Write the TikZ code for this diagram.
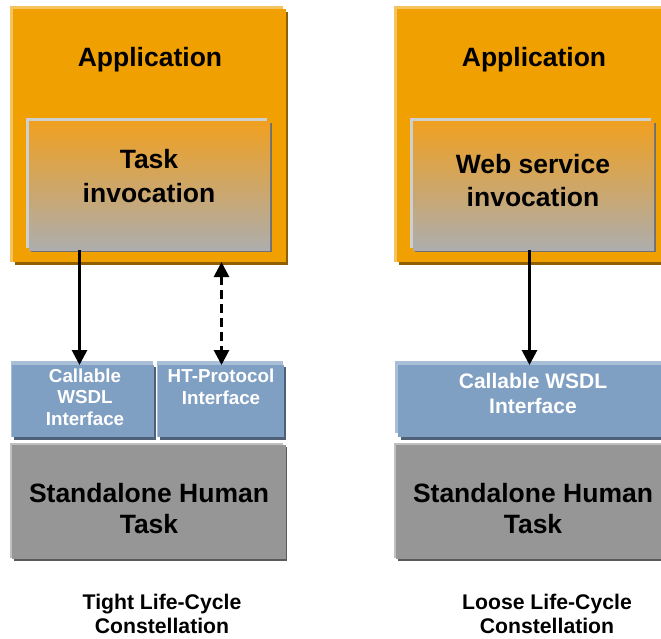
\documentclass[tikz,border=0pt]{standalone}
\usepackage{fontspec}
\setmainfont{Liberation Sans}
\usetikzlibrary{arrows.meta}
\definecolor{appM}{HTML}{F0A000}\definecolor{appH}{HTML}{F5C35F}\definecolor{appS}{HTML}{906000}
\definecolor{blueM}{HTML}{7F9FC3}\definecolor{blueH}{HTML}{A9BFD8}\definecolor{blueS}{HTML}{4F6079}
\definecolor{grayM}{HTML}{969696}\definecolor{grayH}{HTML}{C0C0C0}\definecolor{grayS}{HTML}{5A5A5A}
\definecolor{taskH}{HTML}{CFCFCF}\definecolor{taskS}{HTML}{707070}
\definecolor{taskT}{HTML}{F0A020}\definecolor{taskB}{HTML}{ADADAD}
\tikzset{
 panel/.style={inner sep=0pt,outer sep=0pt,anchor=north west,align=center},
 big/.style={font=\fontsize{26.5}{33}\selectfont\bfseries,text=black},
 bigwide/.style={font=\fontsize{26.5}{34}\selectfont\bfseries,text=black},
 bigtight/.style={font=\fontsize{26.5}{31}\selectfont\bfseries,text=black},
 small/.style={font=\fontsize{18.8}{21.5}\selectfont\bfseries,text=white},
 mid/.style={font=\fontsize{21}{25}\selectfont\bfseries,text=white},
 captext/.style={font=\fontsize{21.2}{24.5}\selectfont\bfseries,text=black,align=center,inner sep=0pt},
 lab/.style={inner sep=0pt,align=center},
 conn/.style={line width=2.8pt,-{Triangle[length=15pt,width=15pt]}},
 dconn/.style={line width=2.8pt,dash pattern=on 9pt off 5pt,{Triangle[length=15pt,width=15pt]}-{Triangle[length=15pt,width=15pt]}}
}
\begin{document}
\begin{tikzpicture}[x=1pt,y=-1pt]
\useasboundingbox (0,0) rectangle (661,638);
\begin{scope}
\clip (0,0) rectangle (661,638);
% left column
\fill[appH] (10,6) rectangle (283,262);
\fill[appS] (15,12) rectangle (288,265);
\node[panel,fill=appM,minimum width=273pt,minimum height=253pt] (app1) at (13,9) {};
\fill[taskH] (26,118) rectangle (267,248);
\fill[taskS] (31,123) rectangle (272,252);
\node[panel,top color=taskT,bottom color=taskB,minimum width=241pt,minimum height=129pt] (task1) at (29,121) {};
\fill[blueH] (11,361) rectangle (153,437);
\fill[blueS] (14,367) rectangle (156,440);
\node[panel,fill=blueM,minimum width=142pt,minimum height=72pt] (wsdl1) at (12,365) {};
\fill[blueH] (157,361) rectangle (283,437);
\fill[blueS] (160,367) rectangle (286,440);
\node[panel,fill=blueM,minimum width=126pt,minimum height=72pt] (ht1) at (158,365) {};
\fill[grayH] (10,443) rectangle (283,558);
\fill[grayS] (14,447) rectangle (287,561);
\node[panel,fill=grayM,minimum width=274pt,minimum height=114pt] (hum1) at (12,445) {};
% right column
\fill[appH] (394,6) rectangle (667,262);
\fill[appS] (399,12) rectangle (672,265);
\node[panel,fill=appM,minimum width=273pt,minimum height=253pt] (app2) at (397,9) {};
\fill[taskH] (410,118) rectangle (651,248);
\fill[taskS] (415,123) rectangle (656,252);
\node[panel,top color=taskT,bottom color=taskB,minimum width=241pt,minimum height=129pt] (task2) at (413,121) {};
\fill[blueH] (395,361) rectangle (668,433);
\fill[blueS] (401,367) rectangle (674,440);
\node[panel,fill=blueM,minimum width=273pt,minimum height=72pt] (wsdl2) at (398,365) {};
\fill[grayH] (394,443) rectangle (667,558);
\fill[grayS] (398,447) rectangle (671,561);
\node[panel,fill=grayM,minimum width=274pt,minimum height=114pt] (hum2) at (396,445) {};
\end{scope}
% labels
\node[lab,big] (l1) at (150,59.5) {Application};
\node[lab,bigwide] (l2) at (149,176.5) {Task\\invocation};
\node[lab,small] (l3) at (85,397) {Callable\\WSDL\\Interface};
\node[lab,small] (l4) at (221,387) {HT-Protocol\\Interface};
\node[lab,bigtight] (l5) at (149,509) {Standalone Human\\Task};
\node[lab,big] (l6) at (534,59.5) {Application};
\node[lab,big] (l7) at (533,180.5) {Web service\\invocation};
\node[lab,mid] (l8) at (533,393) {Callable WSDL\\Interface};
\node[lab,bigtight] (l9) at (533,509) {Standalone Human\\Task};
\node[captext] (c1) at (162,614) {Tight Life-Cycle\\Constellation};
\node[captext] (c2) at (547,614) {Loose Life-Cycle\\Constellation};
% connectors
\draw[conn] (79.5,0 |- task1.south) -- (79.5,0 |- wsdl1.north);
\draw[dconn] (221.5,0 |- app1.south) -- (221.5,0 |- ht1.north);
\draw[conn] (529.5,0 |- task2.south) -- (529.5,0 |- wsdl2.north);
\end{tikzpicture}
\end{document}
